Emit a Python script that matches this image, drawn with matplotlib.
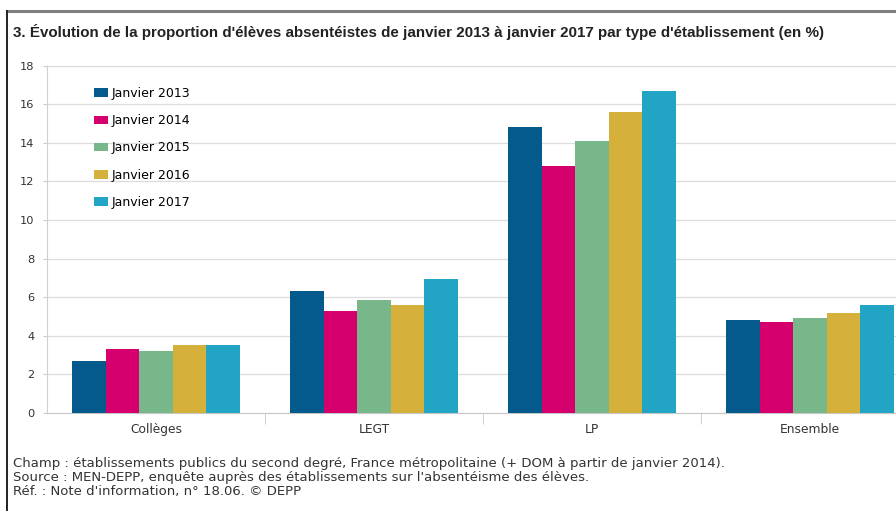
"""Proportion d'élèves absentéistes par type d'établissement, 2013-2017."""

import matplotlib

matplotlib.use("Agg")
import matplotlib.pyplot as plt
import numpy as np
from matplotlib.lines import Line2D

plt.rcParams["font.family"] = ["DejaVu Sans"]

categories = ["Collèges", "LEGT", "LP", "Ensemble"]
series_labels = ["Janvier 2013", "Janvier 2014", "Janvier 2015", "Janvier 2016", "Janvier 2017"]
values_2013 = [2.7, 6.3, 14.8, 4.8]
values_2014 = [3.3, 5.3, 12.8, 4.7]
values_2015 = [3.2, 5.85, 14.1, 4.9]
values_2016 = [3.5, 5.6, 15.6, 5.2]
values_2017 = [3.5, 6.95, 16.7, 5.6]
series_values = [values_2013, values_2014, values_2015, values_2016, values_2017]
colors = ["#045a8d", "#d5006d", "#77b78a", "#d5b13c", "#22a5c5"]
y_ticks = [0, 2, 4, 6, 8, 10, 12, 14, 16, 18]

W, H = 896, 511
fig = plt.figure(figsize=(W / 100, H / 100), dpi=100)

# axes placed in pixel terms, right side runs off the image like the source
left, right, top, bottom = 47, 896, 65.5, 413
ax = fig.add_axes([left / W, 1 - bottom / H, (right - left) / W, (bottom - top) / H])

x = np.arange(len(categories))
bar_w = 0.154
for i, (vals, col, lab) in enumerate(zip(series_values, colors, series_labels)):
    offset = (i - 2) * bar_w
    ax.bar(x + offset, vals, width=bar_w, color=col, label=lab, zorder=3)

ax.set_yticks(y_ticks)
ax.set_yticklabels([str(t) for t in y_ticks], fontsize=8.2, color="#333333")
ax.grid(axis="y", color="#dcdcdc", linewidth=0.9, zorder=0)
ax.tick_params(axis="y", length=3, color="#cccccc", pad=6)

# categories centred, separators as minor ticks
ax.set_xticks(x)
ax.set_xticklabels(categories, fontsize=8.8, color="#333333")
ax.set_xticks(np.arange(len(categories)) + 0.5, minor=True)
ax.tick_params(axis="x", which="major", length=0, pad=7)
ax.tick_params(axis="x", which="minor", length=8, color="#c8c8c8")

# limits last, set_xticks would widen them otherwise
ax.set_ylim(0, 18)
ax.set_xlim(-0.5, -0.5 + (right - left) / 218)

for side in ["top", "right"]:
    ax.spines[side].set_visible(False)
ax.spines["left"].set_color("#d0d0d0")
ax.spines["bottom"].set_color("#c8c8c8")

ax.legend(
    loc="upper left",
    bbox_to_anchor=(0.042, 0.970),
    frameon=False,
    fontsize=9,
    handlelength=1.1,
    handleheight=0.7,
    handletextpad=0.3,
    labelspacing=1.13,
)

fig.text(13 / W, 1 - 32 / H, "3. Évolution de la proportion d'élèves absentéistes de janvier 2013 "
         "à janvier 2017 par type d'établissement (en %)",
         fontsize=10.9, fontweight="bold", color="#222222", va="center",
         family=["Liberation Sans", "DejaVu Sans"])

footer = [
    "Champ : établissements publics du second degré, France métropolitaine (+ DOM à partir de janvier 2014).",
    "Source : MEN-DEPP, enquête auprès des établissements sur l'absentéisme des élèves.",
    "Réf. : Note d'information, n° 18.06. © DEPP",
]
for k, line in enumerate(footer):
    fig.text(13 / W, 1 - (463 + 14 * k) / H, line, fontsize=9.55, color="#333333", va="center")

# outer frame: grey top rule and dark left rule
fig.add_artist(Line2D([7 / W, 1], [1 - 11 / H, 1 - 11 / H], color="#808080", linewidth=2.2))
fig.add_artist(Line2D([7 / W, 7 / W], [0, 1 - 11 / H], color="#222222", linewidth=1.4))

fig.savefig("out.png", dpi=100)
